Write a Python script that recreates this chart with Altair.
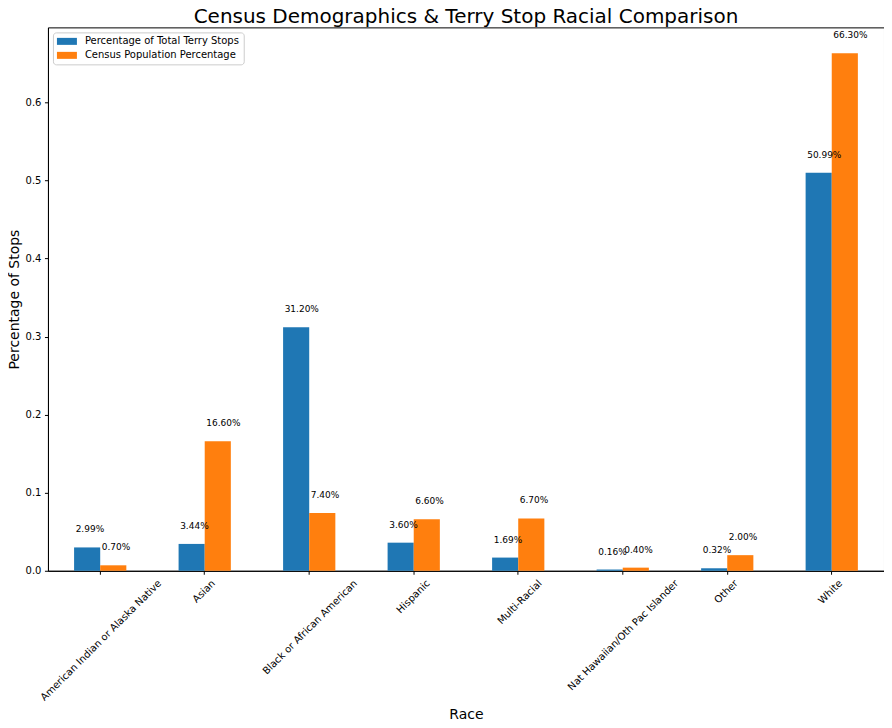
import altair as alt
import pandas as pd

races = [
    "American Indian or Alaska Native",
    "Asian",
    "Black or African American",
    "Hispanic",
    "Multi-Racial",
    "Nat Hawaiian/Oth Pac Islander",
    "Other",
    "White",
]
terry_pct = [0.0299, 0.0344, 0.3120, 0.0360, 0.0169, 0.0016, 0.0032, 0.5099]
census_pct = [0.0070, 0.1660, 0.0740, 0.0660, 0.0670, 0.0040, 0.0200, 0.6630]
series = ["Percentage of Total Terry Stops", "Census Population Percentage"]
colors = ["#1f77b4", "#ff7f0e"]
y_ticks = [0.0, 0.1, 0.2, 0.3, 0.4, 0.5, 0.6]
y_max = 0.6962

rows = []
for race, t, c in zip(races, terry_pct, census_pct):
    rows.append({"race": race, "series": series[0], "pct": t})
    rows.append({"race": race, "series": series[1], "pct": c})
df = pd.DataFrame(rows)
df["label"] = (df["pct"] * 100).map("{:.2f}%".format)

FONT = "DejaVu Sans"

x = alt.X(
    "race:N", sort=races, title="Race",
    scale=alt.Scale(paddingInner=0, paddingOuter=0),
    axis=alt.Axis(
        labelAngle=-45, labelAlign="right", labelBaseline="top",
        # shift so the rotated label box is centred on the tick, like matplotlib
        labelOffset=alt.ExprRef("0.354 * (length(datum.label) * 5.3 - 11)"),
        titlePadding=5,
    ),
)
xoff = alt.XOffset("series:N", sort=series,
                   scale=alt.Scale(paddingInner=0, paddingOuter=1))
y = alt.Y(
    "pct:Q", title="Percentage of Stops",
    scale=alt.Scale(domain=[0, y_max], nice=False, zero=True),
    axis=alt.Axis(values=y_ticks, format=".1f", grid=False, titlePadding=4),
)

base = alt.Chart(df)

bars = base.mark_bar().encode(
    x=x, xOffset=xoff, y=y,
    color=alt.Color(
        "series:N", sort=series,
        scale=alt.Scale(domain=series, range=colors),
        legend=alt.Legend(
            title=None, orient="top-left", offset=5, padding=4,
            fillColor="white", strokeColor="#cccccc", cornerRadius=3,
            symbolType="M-2,-0.7L2,-0.7L2,0.7L-2,0.7Z", symbolSize=100,
            symbolStrokeWidth=0, symbolOffset=5, labelOffset=13,
            rowPadding=4, labelFont=FONT, labelFontSize=10, labelLimit=400,
            labelColor="black",
        ),
    ),
)

labels = base.mark_text(
    align="left", baseline="alphabetic", dx=-11.5, dy=-15,
    fontSize=9, font=FONT, color="black",
).encode(x=x, xOffset=xoff, y=y, text="label:N")

chart = alt.layer(bars, labels).properties(
    width=837, height=544,
    title=alt.Title(
        "Census Demographics & Terry Stop Racial Comparison",
        fontSize=20, font=FONT, fontWeight="normal", color="black",
        offset=3, baseline="bottom", frame="group", dy=23,
    ),
    autosize=alt.AutoSizeParams(type="none"),
    padding={"left": 40, "top": 19, "right": 0, "bottom": 155},
).configure_view(
    stroke="black", strokeWidth=1,
).configure_axis(
    domainColor="black", tickColor="black", labelColor="black",
    titleColor="black", labelFont=FONT, titleFont=FONT,
    labelFontSize=10, titleFontSize=14, titleFontWeight="normal",
    tickSize=3.5, labelPadding=3.5,
)

chart.save("out.html", embed_options={"renderer": "svg", "actions": False})
